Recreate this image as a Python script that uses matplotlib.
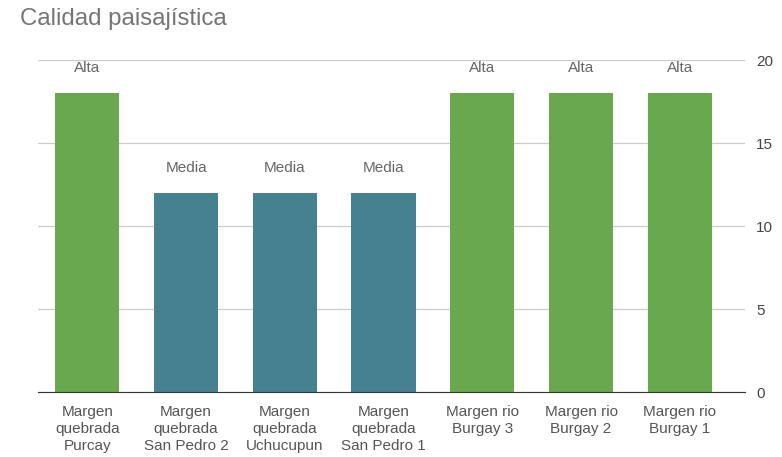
import matplotlib.pyplot as plt

plt.rcParams['font.family'] = ['Liberation Sans', 'DejaVu Sans']

categories = ['Margen\nquebrada\nPurcay', 'Margen\nquebrada\nSan Pedro 2', 'Margen\nquebrada\nUchucupun',
              'Margen\nquebrada\nSan Pedro 1', 'Margen rio\nBurgay 3', 'Margen rio\nBurgay 2', 'Margen rio\nBurgay 1']
values = [18, 12, 12, 12, 18, 18, 18]
labels = ['Alta', 'Media', 'Media', 'Media', 'Alta', 'Alta', 'Alta']
colors = ['#6aa84f' if lab == 'Alta' else '#45818e' for lab in labels]

fig = plt.figure(figsize=(7.82, 4.57), dpi=100)
ax = fig.add_axes([0.0486, 0.1422, 0.904, 0.7265])

x = range(len(categories))
bars = ax.bar(x, values, width=0.65, color=colors, zorder=3)
for b, lab in zip(bars, labels):
    ax.text(b.get_x() + b.get_width() / 2, b.get_height() + 1.5, lab,
            ha='center', va='center', fontsize=11, color='#666666')

ax.set_xlim(-0.5, 6.66)
ax.set_ylim(0, 20)
ax.set_yticks([0, 5, 10, 15, 20])
ax.yaxis.tick_right()
ax.grid(axis='y', color='#cccccc', linewidth=0.9, zorder=0)
ax.set_xticks(list(x))
ax.set_xticklabels(categories, fontsize=11, color='#555555', linespacing=1.3)
ax.tick_params(axis='x', length=0, pad=9)
ax.tick_params(axis='y', length=0, labelsize=11, labelcolor='#444444', pad=8)
for s in ['top', 'left', 'right']:
    ax.spines[s].set_visible(False)
ax.spines['bottom'].set_color('#333333')
ax.spines['bottom'].set_zorder(4)

fig.text(0.0256, 0.958, 'Calidad paisajística', fontsize=17.3, color='#757575', va='center')

fig.savefig('out.png', dpi=100)
